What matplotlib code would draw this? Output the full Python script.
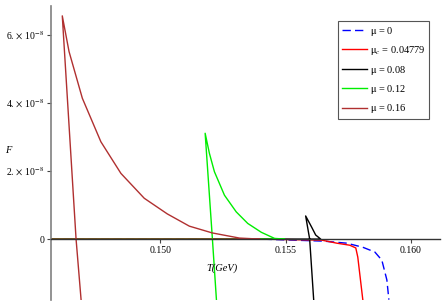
import matplotlib
matplotlib.use("Agg")
import matplotlib.pyplot as plt

plt.rcParams["font.family"] = ["Liberation Serif", "DejaVu Serif"]
plt.rcParams["mathtext.fontset"] = "stix"

# ---- data (T in GeV, F) ----
# mu = 0 (blue dashed)
T_mu0 = [0.14564, 0.15400, 0.15652, 0.15744, 0.15808, 0.15856, 0.15884, 0.15904, 0.15912]
F_mu0 = [0.0, 0.0, -0.06e-8, -0.12e-8, -0.24e-8, -0.38e-8, -0.62e-8, -1.2e-8, -1.78e-8]
# mu_c = 0.04779 (red)
T_muc = [0.14564, 0.15400, 0.15644, 0.15704, 0.15756, 0.15780, 0.15788, 0.15808]
F_muc = [0.0, 0.0, -0.03e-8, -0.12e-8, -0.18e-8, -0.26e-8, -0.53e-8, -1.78e-8]
# mu = 0.08 (black)
T_m08 = [0.14564, 0.15640, 0.15620, 0.15604, 0.15580, 0.15596, 0.15612]
F_m08 = [0.0, 0.0, 0.12e-8, 0.35e-8, 0.68e-8, 0.0, -1.78e-8]
# mu = 0.12 (green)
T_m12 = [0.14564, 0.15496, 0.15456, 0.15403, 0.15349, 0.15303, 0.15256, 0.15216, 0.15196, 0.15179,
         0.15208, 0.15224]
F_m12 = [0.0, 0.0, 0.02e-8, 0.20e-8, 0.46e-8, 0.80e-8, 1.29e-8, 1.98e-8, 2.52e-8, 3.11e-8,
         0.0, -1.78e-8]
# mu = 0.16 (brown)
T_m16 = [0.14564, 0.15396, 0.15316, 0.15208, 0.15116, 0.15028, 0.14936, 0.14843, 0.14763,
         0.14689, 0.14636, 0.14609, 0.14664, 0.14684]
F_m16 = [0.0, 0.0, 0.03e-8, 0.18e-8, 0.38e-8, 0.74e-8, 1.20e-8, 1.93e-8, 2.86e-8,
         4.14e-8, 5.51e-8, 6.56e-8, 0.0, -1.78e-8]

xticks = [0.150, 0.155, 0.160]
xticklabels = ["0.150", "0.155", "0.160"]
yticks = [0.0, 2e-8, 4e-8, 6e-8]
yticklabels = ["0", r"2. $\times$ 10$^{-8}$", r"4. $\times$ 10$^{-8}$", r"6. $\times$ 10$^{-8}$"]

fig = plt.figure(figsize=(4.43, 3.05), dpi=100)
ax = fig.add_axes([51 / 443, 5 / 305, 389 / 443, 294 / 305])

lw = 1.0
ax.plot(T_mu0, F_mu0, color="#0000ff", lw=lw, ls=(0, (6, 3)), label=r"$\mathrm{\mu}$ = 0")
ax.plot(T_muc, F_muc, color="#ff0000", lw=lw, label=r"$\mathrm{\mu}_{c}$ = 0.04779")
ax.plot(T_m08, F_m08, color="#000000", lw=lw, label=r"$\mathrm{\mu}$ = 0.08")
ax.plot(T_m12, F_m12, color="#00ee00", lw=lw, label=r"$\mathrm{\mu}$ = 0.12")
ax.plot(T_m16, F_m16, color="#b03030", lw=lw, label=r"$\mathrm{\mu}$ = 0.16")

ax.set_xlim(0.14564, 0.16116)
ax.set_ylim(-1.79e-8, 6.85e-8)

for s in ["top", "right"]:
    ax.spines[s].set_visible(False)
ax.spines["bottom"].set_position(("data", 0))
ax.spines["bottom"].set_color("#333333")
ax.spines["bottom"].set_zorder(3)
ax.spines["left"].set_color("#808080")
ax.spines["left"].set_linewidth(1.2)
ax.spines["bottom"].set_linewidth(1.0)

ax.set_xticks(xticks)
ax.set_xticklabels(xticklabels)
ax.set_yticks(yticks)
ax.set_yticklabels(yticklabels)
ax.tick_params(axis="both", labelsize=7, length=3, width=0.8, color="#444444", pad=2)

ax.text(-0.11, 0.51, "F", transform=ax.transAxes, fontsize=7.5, style="italic", ha="center", va="center")
ax.text(0.44, 0.109, "T(GeV)", transform=ax.transAxes, fontsize=7.5, style="italic", ha="center", va="center")

leg = ax.legend(loc="upper right", bbox_to_anchor=(0.972, 0.949), borderaxespad=0, fontsize=7.5,
                handlelength=2.4, handletextpad=0.3, labelspacing=0.62, borderpad=0.35,
                fancybox=False, framealpha=1, edgecolor="#555555")
leg.get_frame().set_linewidth(0.8)

fig.savefig("out.png", dpi=100)
